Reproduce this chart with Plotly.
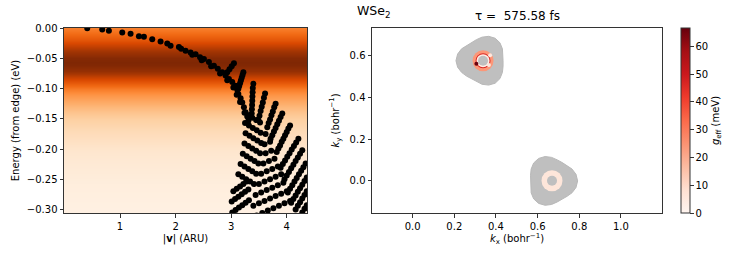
import plotly.graph_objects as go

# ---------------- data ----------------
# background occupation profile of the left panel (relative level vs energy)
bg_energy = [0.006, 0.0, -0.01, -0.02, -0.03, -0.04, -0.05, -0.055, -0.06, -0.07, -0.08,
             -0.09, -0.10, -0.11, -0.12, -0.13, -0.14, -0.15, -0.16, -0.17, -0.18, -0.19,
             -0.20, -0.22, -0.24, -0.26, -0.28, -0.30, -0.315]
bg_level = [0.52, 0.55, 0.62, 0.70, 0.80, 0.90, 0.98, 1.00, 0.99, 0.93, 0.80,
            0.68, 0.56, 0.47, 0.40, 0.34, 0.29, 0.25, 0.22, 0.19, 0.17, 0.15,
            0.13, 0.10, 0.08, 0.06, 0.05, 0.04, 0.035]

# band states, grouped by visible streak: (|v| list in ARU, energy list in eV)
main_branch = (
    [0.41, 0.68, 0.80, 1.04, 1.19, 1.34, 1.43, 1.58, 1.73, 1.85, 1.91, 2.06, 2.18, 2.27, 2.36,
     2.44, 2.51, 2.60, 2.69, 2.76, 2.84, 2.90, 2.96, 3.02, 3.08, 3.11, 3.13, 3.17, 3.20, 3.23,
     3.26, 3.29, 3.31, 2.10, 2.30, 2.47, 2.64, 2.80, 2.93, 3.04, 3.10, 3.16],
    [0.0, -0.002, -0.004, -0.007, -0.009, -0.013, -0.014, -0.018, -0.022, -0.025, -0.029, -0.031,
     -0.037, -0.040, -0.043, -0.048, -0.051, -0.056, -0.062, -0.067, -0.073, -0.078, -0.084,
     -0.089, -0.095, -0.102, -0.109, -0.116, -0.123, -0.131, -0.139, -0.146, -0.153,
     -0.034, -0.044, -0.053, -0.063, -0.075, -0.086, -0.098, -0.110, -0.122],
)
upper_rays = [
    ([2.93, 2.97, 3.01, 3.05], [-0.073, -0.068, -0.063, -0.058]),
    ([3.13, 3.145, 3.16, 3.175, 3.19, 3.205, 3.22],
     [-0.100, -0.0955, -0.091, -0.0865, -0.082, -0.0775, -0.073]),
    ([3.37, 3.373, 3.377, 3.38, 3.383, 3.387, 3.39, 3.40],
     [-0.141, -0.134, -0.127, -0.120, -0.113, -0.106, -0.099, -0.092]),
    ([3.49, 3.51, 3.53, 3.55, 3.57, 3.59, 3.61],
     [-0.152, -0.145, -0.137, -0.130, -0.123, -0.115, -0.108]),
    ([3.65, 3.675, 3.70, 3.725, 3.75, 3.775, 3.80],
     [-0.164, -0.157, -0.151, -0.144, -0.138, -0.131, -0.125]),
]
right_streaks = [
    ([3.92, 3.89, 3.86, 3.83, 3.80, 3.77, 3.74, 3.71],
     [-0.141, -0.147, -0.153, -0.159, -0.165, -0.171, -0.177, -0.183]),
    ([4.06, 4.03, 4.00, 3.97, 3.94, 3.91, 3.88, 3.85, 3.82],
     [-0.161, -0.166, -0.172, -0.177, -0.183, -0.188, -0.194, -0.199, -0.205]),
    ([4.21, 4.17, 4.13, 4.09, 4.05, 4.01, 3.97, 3.93, 3.89],
     [-0.183, -0.189, -0.195, -0.201, -0.207, -0.213, -0.219, -0.225, -0.231]),
    ([4.28, 4.24, 4.20, 4.16, 4.12, 4.08, 4.04, 4.00, 3.96],
     [-0.202, -0.208, -0.214, -0.220, -0.226, -0.232, -0.238, -0.244, -0.250]),
    ([4.34, 4.30, 4.26, 4.22, 4.18, 4.14, 4.10, 4.06, 4.02],
     [-0.224, -0.230, -0.236, -0.242, -0.248, -0.254, -0.260, -0.266, -0.272]),
    ([4.36, 4.32, 4.28, 4.24, 4.20, 4.16, 4.12, 4.08],
     [-0.247, -0.253, -0.259, -0.265, -0.271, -0.277, -0.283, -0.289]),
    ([4.36, 4.32, 4.28, 4.24, 4.20, 4.16], [-0.270, -0.276, -0.282, -0.288, -0.294, -0.300]),
    ([4.36, 4.32, 4.28], [-0.293, -0.299, -0.305]),
]
left_streaks = [
    ([3.24, 3.31, 3.38, 3.45, 3.52], [-0.140, -0.144, -0.148, -0.152, -0.156]),
    ([3.25, 3.32, 3.39, 3.46, 3.53], [-0.157, -0.161, -0.165, -0.169, -0.173]),
    ([3.26, 3.33, 3.40, 3.47, 3.54], [-0.174, -0.178, -0.182, -0.186, -0.190]),
    ([3.24, 3.31, 3.38, 3.45, 3.52], [-0.191, -0.195, -0.199, -0.203, -0.207]),
    ([3.21, 3.28, 3.35, 3.42, 3.49], [-0.208, -0.212, -0.216, -0.220, -0.224]),
    ([3.17, 3.24, 3.31, 3.38, 3.45], [-0.225, -0.229, -0.233, -0.237, -0.241]),
    ([3.13, 3.20, 3.27, 3.34, 3.41], [-0.242, -0.246, -0.250, -0.254, -0.258]),
]
bottom_streaks = [
    ([3.04, 3.10, 3.16, 3.22, 3.28], [-0.270, -0.266, -0.262, -0.258, -0.254]),
    ([3.01, 3.07, 3.13, 3.19, 3.25, 3.31], [-0.287, -0.283, -0.279, -0.275, -0.271, -0.267]),
    ([3.02, 3.08, 3.14, 3.20, 3.26, 3.32], [-0.305, -0.301, -0.297, -0.293, -0.289, -0.285]),
]
middle_rows = [
    ([3.62], [-0.175]),
    ([3.60, 3.70], [-0.192, -0.188]),
    ([3.62, 3.72], [-0.207, -0.203]),
    ([3.58, 3.68, 3.78], [-0.224, -0.220, -0.216]),
    ([3.54, 3.64, 3.74, 3.84], [-0.241, -0.237, -0.233, -0.229]),
    ([3.50, 3.60, 3.70, 3.80, 3.90], [-0.258, -0.254, -0.250, -0.246, -0.242]),
    ([3.44, 3.54, 3.64, 3.74, 3.84, 3.94], [-0.276, -0.272, -0.268, -0.264, -0.260, -0.256]),
    ([3.40, 3.50, 3.60, 3.70, 3.80, 3.90, 4.00],
     [-0.294, -0.290, -0.286, -0.282, -0.278, -0.274, -0.270]),
    ([3.46, 3.56, 3.66, 3.76, 3.86, 3.96, 4.06],
     [-0.310, -0.306, -0.302, -0.298, -0.294, -0.290, -0.286]),
]

# Fermi-surface pockets (outline points, bohr^-1)
pocketK_kx = [0.434, 0.434, 0.431, 0.419, 0.396, 0.365, 0.333, 0.306, 0.283, 0.259, 0.235, 0.216,
              0.208, 0.216, 0.235, 0.259, 0.283, 0.306, 0.333, 0.365, 0.396, 0.419, 0.431, 0.434]
pocketK_ky = [0.577, 0.604, 0.634, 0.663, 0.685, 0.694, 0.690, 0.678, 0.665, 0.651, 0.634, 0.609,
              0.577, 0.546, 0.521, 0.503, 0.490, 0.476, 0.464, 0.460, 0.469, 0.491, 0.521, 0.550]
pocketKp_kx = [0.792, 0.784, 0.765, 0.741, 0.718, 0.694, 0.667, 0.636, 0.605, 0.581, 0.569, 0.566,
               0.566, 0.566, 0.569, 0.581, 0.605, 0.636, 0.667, 0.694, 0.718, 0.741, 0.765, 0.784]
pocketKp_ky = [0.000, 0.032, 0.057, 0.074, 0.088, 0.101, 0.113, 0.117, 0.108, 0.086, 0.057, 0.027,
               0.000, -0.027, -0.057, -0.086, -0.108, -0.117, -0.113, -0.101, -0.088, -0.074, -0.057, -0.032]

# coupling rings: centre, g_eff (meV) from outer to inner layer
ring_kx = [0.338, 0.338, 0.338, 0.669, 0.669]
ring_ky = [0.577, 0.577, 0.577, 0.001, 0.001]
ring_g = [24.0, 46.0, 3.0, 6.0, 6.0]
ring_layer = [0, 1, 2, 0, 2]
hot_kx = [0.306, 0.372, 0.366]
hot_ky = [0.562, 0.603, 0.556]
hot_g = [66.0, 5.0, 5.0]
core_kx = [0.338, 0.669]
core_ky = [0.577, 0.001]

tau_fs = 575.58
g_max = 66.6

# ---------------- assemble ----------------
groups = [main_branch] + upper_rays + right_streaks + left_streaks + bottom_streaks + middle_rows
band_v = [v for g in groups for v in g[0]]
band_E = [e for g in groups for e in g[1]]

FONT = "DejaVu Sans"
oranges = [[0.0, "#fff5eb"], [0.125, "#fee6ce"], [0.25, "#fdd0a2"], [0.375, "#fdae6b"],
           [0.5, "#fd8d3c"], [0.625, "#f16913"], [0.75, "#d94801"], [0.875, "#a63603"],
           [1.0, "#7f2704"]]
reds = [[0.0, "#fff5f0"], [0.125, "#fee0d2"], [0.25, "#fcbba1"], [0.375, "#fc9272"],
        [0.5, "#fb6a4a"], [0.625, "#ef3b2c"], [0.75, "#cb181d"], [0.875, "#a50f15"],
        [1.0, "#67000d"]]
layer_size = [21, 15, 13]

fig = go.Figure()

fig.add_trace(go.Heatmap(
    x=[-0.2, 4.6], y=bg_energy, z=[[v, v] for v in bg_level],
    colorscale=oranges, zmin=0, zmax=1, zsmooth="best", showscale=False,
    xaxis="x", yaxis="y", hoverinfo="skip"))

fig.add_trace(go.Scatter(
    x=band_v, y=band_E, mode="markers",
    marker=dict(color="black", size=6, line=dict(width=0)),
    xaxis="x", yaxis="y", showlegend=False))

for kx, ky in ((pocketK_kx, pocketK_ky), (pocketKp_kx, pocketKp_ky)):
    fig.add_trace(go.Scatter(
        x=kx + kx[:1], y=ky + ky[:1], mode="lines", fill="toself",
        fillcolor="#bfbfbf", line=dict(color="#b8b8b8", width=1),
        xaxis="x2", yaxis="y2", showlegend=False, hoverinfo="skip"))

for layer in (0, 1, 2):
    idx = [i for i, l in enumerate(ring_layer) if l == layer]
    fig.add_trace(go.Scatter(
        x=[ring_kx[i] for i in idx], y=[ring_ky[i] for i in idx], mode="markers",
        marker=dict(size=layer_size[layer], color=[ring_g[i] for i in idx],
                    colorscale=reds, cmin=0, cmax=g_max, line=dict(width=0),
                    showscale=(layer == 0),
                    colorbar=dict(
                        x=681 / 747, xanchor="left", xpad=0, ypad=0,
                        y=49 / 262, yanchor="bottom", len=185 / 262, lenmode="fraction",
                        thickness=9, thicknessmode="pixels",
                        outlinewidth=1, outlinecolor="#333",
                        tickvals=[0, 10, 20, 30, 40, 50, 60], ticks="outside", ticklen=3.5,
                        tickwidth=0.8, tickcolor="#333",
                        tickfont=dict(family=FONT, size=10, color="black"),
                        title=dict(text="<i>g</i><sub>eff</sub> (meV)", side="right",
                                   font=dict(family=FONT, size=10, color="black")))),
        xaxis="x2", yaxis="y2", showlegend=False))

fig.add_trace(go.Scatter(
    x=core_kx, y=core_ky, mode="markers",
    marker=dict(size=10, color="#bfbfbf", line=dict(width=0)),
    xaxis="x2", yaxis="y2", showlegend=False))

fig.add_trace(go.Scatter(
    x=hot_kx, y=hot_ky, mode="markers",
    marker=dict(size=4, color=hot_g, colorscale=reds, cmin=0, cmax=g_max, line=dict(width=0)),
    xaxis="x2", yaxis="y2", showlegend=False))

axis_common = dict(showline=True, mirror=True, linecolor="#333", linewidth=1,
                   ticks="outside", ticklen=3.5, tickwidth=0.8, tickcolor="#333",
                   showgrid=False, zeroline=False, automargin=False,
                   tickfont=dict(family=FONT, size=10, color="black"))

fig.update_layout(
    width=747, height=262, margin=dict(l=0, r=0, t=0, b=0, autoexpand=False),
    paper_bgcolor="white", plot_bgcolor="white",
    font=dict(family=FONT, size=10, color="black"),
    showlegend=False,
    xaxis=dict(domain=[64 / 747, 307 / 747], range=[-0.008, 4.365],
               tickvals=[1, 2, 3, 4], ticktext=["1", "2", "3", "4"],
               title=dict(text="|<b>v</b>| (ARU)", standoff=4,
                          font=dict(family=FONT, size=10)), anchor="y", **axis_common),
    yaxis=dict(domain=[49 / 262, 234 / 262], range=[-0.306, 0.0005],
               tickvals=[0, -0.05, -0.10, -0.15, -0.20, -0.25, -0.30],
               ticktext=["0.00", "\u22120.05", "\u22120.10", "\u22120.15", "\u22120.20",
                         "\u22120.25", "\u22120.30"],
               title=dict(text="Energy (from edge) (eV)", standoff=5,
                          font=dict(family=FONT, size=10)), anchor="x", **axis_common),
    xaxis2=dict(domain=[372 / 747, 662 / 747], range=[-0.195, 1.197],
                tickvals=[0, 0.2, 0.4, 0.6, 0.8, 1.0],
                ticktext=["0.0", "0.2", "0.4", "0.6", "0.8", "1.0"],
                title=dict(text="<i>k</i><sub>x</sub> (bohr<sup>\u22121</sup>)", standoff=4,
                           font=dict(family=FONT, size=10)), anchor="y2", **axis_common),
    yaxis2=dict(domain=[49 / 262, 234 / 262], range=[-0.154, 0.734],
                tickvals=[0, 0.2, 0.4, 0.6], ticktext=["0.0", "0.2", "0.4", "0.6"],
                title=dict(text="<i>k</i><sub>y</sub> (bohr<sup>\u22121</sup>)", standoff=8,
                           font=dict(family=FONT, size=10)), anchor="x2", **axis_common),
    annotations=[
        dict(text="WSe<sub>2</sub>", x=374 / 747, y=1 - 12 / 262, xref="paper", yref="paper",
             showarrow=False, xanchor="center", yanchor="middle",
             font=dict(family=FONT, size=12.5, color="black")),
        dict(text="\u03c4 =  %.2f fs" % tau_fs, x=517 / 747, y=1 - 16 / 262,
             xref="paper", yref="paper", showarrow=False, xanchor="center", yanchor="middle",
             font=dict(family=FONT, size=12, color="black")),
    ],
)

fig.write_html("out.html", config={"displayModeBar": False},
               post_script="document.body.style.margin='0';")
